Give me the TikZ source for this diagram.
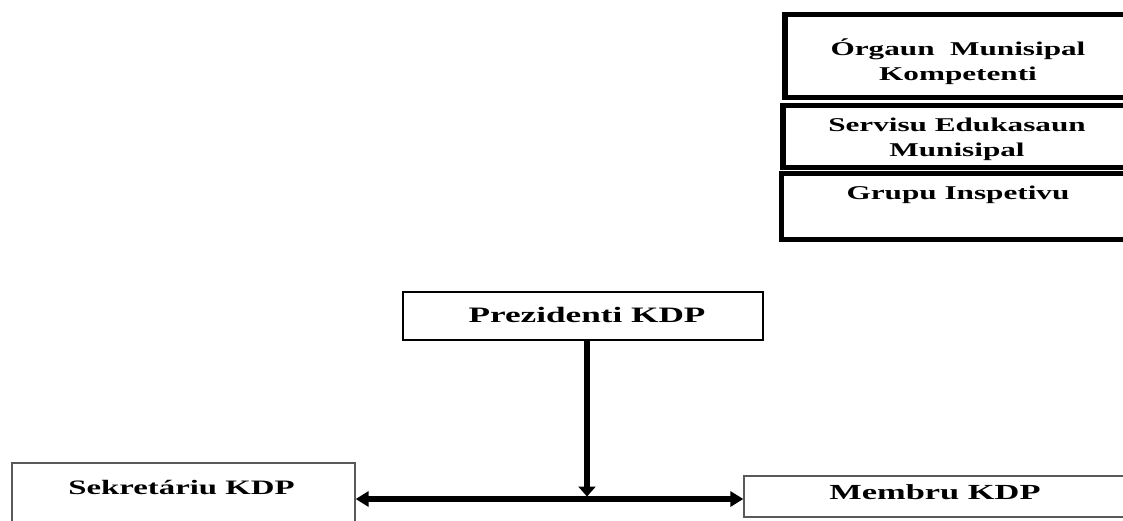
\documentclass[tikz,border=0pt]{standalone}
\usepackage{fontspec}
\newfontfamily\lblfont{Liberation Serif}[FakeStretch=1.6]
\usetikzlibrary{arrows.meta}
\begin{document}
\begin{tikzpicture}[x=1pt,y=-1pt,
  thickbox/.style={draw=black, line width=5.5pt, inner sep=0pt},
  thinbox/.style={draw=black, line width=1.1pt, inner sep=0pt},
  greybox/.style={draw=black!65, line width=1.3pt, inner sep=0pt},
  lbl/.style={font=\lblfont\bfseries\fontsize{19.5}{25}\selectfont, align=center, inner sep=0pt},
  lblbig/.style={lbl, font=\lblfont\bfseries\fontsize{#1}{25}\selectfont},
  conn/.style={draw=black, line width=5.5pt}
]
\useasboundingbox (0,0) rectangle (1123,520);
\clip (0,0) rectangle (1123,520);
\fill[white] (0,0) rectangle (1123,520);

% top-right stacked boxes
\node[thickbox, minimum width=350pt, minimum height=83pt] (org) at (960,56) {};
\node[thickbox, minimum width=352pt, minimum height=62pt] (serv) at (959,136.5) {};
\node[thickbox, minimum width=353.5pt, minimum height=66pt] (grp) at (958.25,206.5) {};
\node[lbl] (orgtext) at (958,62) {Órgaun\ \ Munisipal\\Kompetenti};
\node[lbl] (servtext) at (957,139) {Servisu Edukasaun\\Munisipal};
\node[lbl, anchor=base] (grptext) at (958,199) {Grupu Inspetivu};

% main boxes
\node[thinbox, minimum width=360pt, minimum height=48pt] (prez) at (583,316) {};
\node[lblbig=22, anchor=base] (preztext) at (587,322) {Prezidenti KDP};

\node[greybox, minimum width=343pt, minimum height=77pt] (sek) at (183.5,501.5) {};
\node[lblbig=20.5, anchor=base] (sektext) at (181.5,494) {Sekretáriu KDP};

\node[greybox, minimum width=386pt, minimum height=41pt] (mem) at (937,496.5) {};
\node[lblbig=21.5, anchor=base] (memtext) at (935,499) {Membru KDP};

% connectors
\coordinate (j) at (587,499);
\draw[conn, -{Triangle[length=10pt,width=17pt]}] (prez.south -| j) -- ([yshift=2.5pt]j);
\draw[conn, {Triangle[length=13pt,width=15pt]}-{Triangle[length=13pt,width=15pt]}] (sek.east |- j) -- (mem.west |- j);
\end{tikzpicture}
\end{document}
